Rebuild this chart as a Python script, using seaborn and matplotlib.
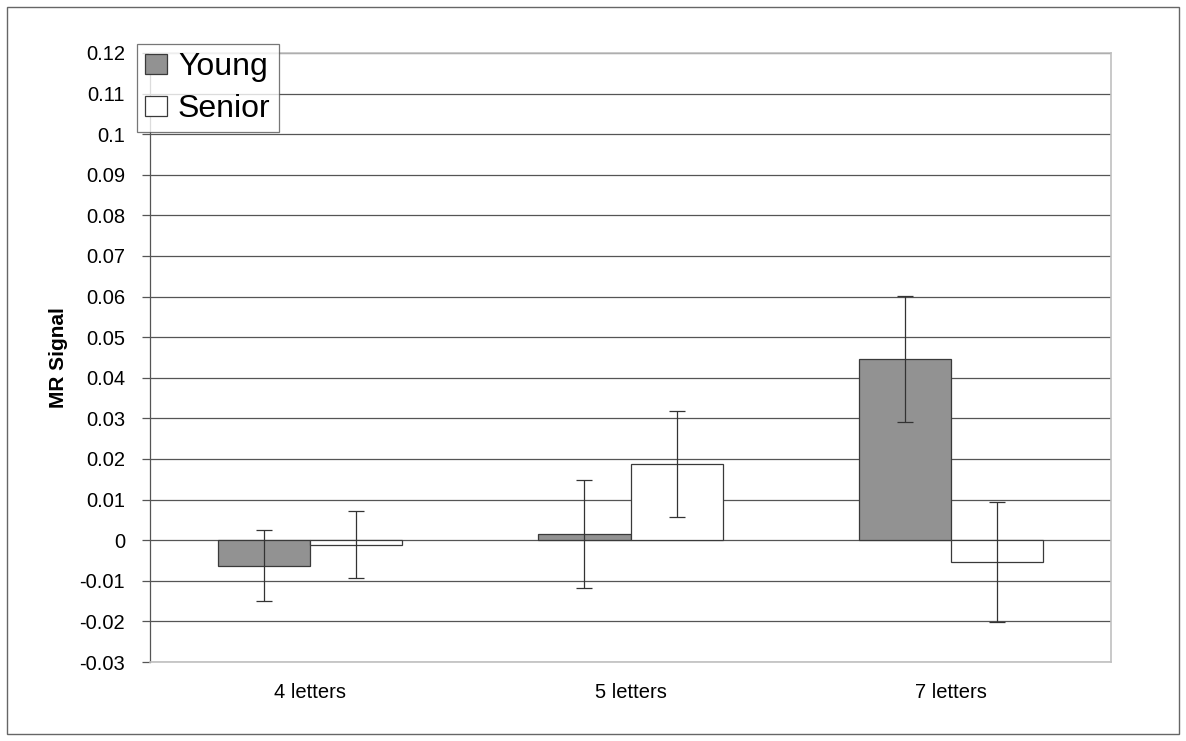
import numpy as np
import pandas as pd
import matplotlib
matplotlib.use("Agg")
import matplotlib.pyplot as plt
from matplotlib.patches import Patch, Rectangle
import seaborn as sns

categories = ["4 letters", "5 letters", "7 letters"]
groups = ["Young", "Senior"]
young = [-0.0063, 0.0015, 0.0447]
senior = [-0.0011, 0.0187, -0.0053]
young_err = [0.0087, 0.0133, 0.0155]
senior_err = [0.0083, 0.0130, 0.0148]
y_ticks = np.round(np.arange(-0.03, 0.1201, 0.01), 2)

colors = {"Young": "#929292", "Senior": "#ffffff"}

df = pd.DataFrame({
    "category": categories * 2,
    "group": ["Young"] * 3 + ["Senior"] * 3,
    "value": young + senior,
})

sns.set_style("white")
plt.rcParams["font.family"] = ["Liberation Sans", "DejaVu Sans"]

fig = plt.figure(figsize=(11.86, 7.41), dpi=100)
ax = fig.add_axes([150 / 1186, 1 - 662 / 741, 961 / 1186, 609 / 741])

sns.barplot(data=df, x="category", y="value", hue="group", hue_order=groups,
            palette=colors, width=0.575, edgecolor="#3a3a3a", linewidth=0.9,
            errorbar=None, legend=False, ax=ax)

# error bars on top of each bar
for cont, errs in zip(ax.containers, [young_err, senior_err]):
    for bar, e in zip(cont, errs):
        xc = bar.get_x() + bar.get_width() / 2
        h = bar.get_height()
        ax.errorbar(xc, h, yerr=e, fmt="none", ecolor="#333333",
                    elinewidth=0.9, capsize=5.5, capthick=0.9, zorder=5)

ax.set_ylim(-0.03, 0.12)
ax.set_xlim(-0.5, 2.5)
ax.set_yticks(y_ticks)
ax.set_yticklabels([f"{t:g}" for t in y_ticks])
ax.set_axisbelow(True)
ax.yaxis.grid(True, color="#555555", linewidth=0.9)
ax.xaxis.grid(False)

ax.tick_params(axis="y", which="major", left=True, length=6, width=0.9,
               color="#555555", pad=12, labelsize=14.5, labelcolor="#000000")
ax.tick_params(axis="x", length=0, pad=15, labelsize=14.5, labelcolor="#000000")

ax.set_xlabel("")
ax.set_ylabel("MR Signal", fontsize=15, fontweight="bold", labelpad=8, color="#000000")

for side in ["top", "right", "bottom"]:
    ax.spines[side].set_color("#c0c0c0")
    ax.spines[side].set_linewidth(1.2)
ax.spines["left"].set_color("#555555")
ax.spines["left"].set_linewidth(0.9)

handles = [Patch(facecolor=colors[g], edgecolor="#3a3a3a", linewidth=0.9) for g in groups]
leg = ax.legend(handles, groups, loc="upper left", bbox_to_anchor=(-0.0135, 1.015),
                borderaxespad=0, fontsize=23, frameon=True, fancybox=False,
                handlelength=0.68, handleheight=0.58, handletextpad=0.35,
                labelspacing=0.38, borderpad=0.25)
leg.get_frame().set_edgecolor("#555555")
leg.get_frame().set_linewidth(0.9)
for t in leg.get_texts():
    t.set_color("#000000")
leg.set_zorder(10)

# outer border around the whole picture
fig.add_artist(Rectangle((7 / 1186, 7 / 741), 1172 / 1186, 727 / 741,
                         transform=fig.transFigure, fill=False,
                         edgecolor="#666666", linewidth=1.0))

fig.savefig("out.png", dpi=100)
